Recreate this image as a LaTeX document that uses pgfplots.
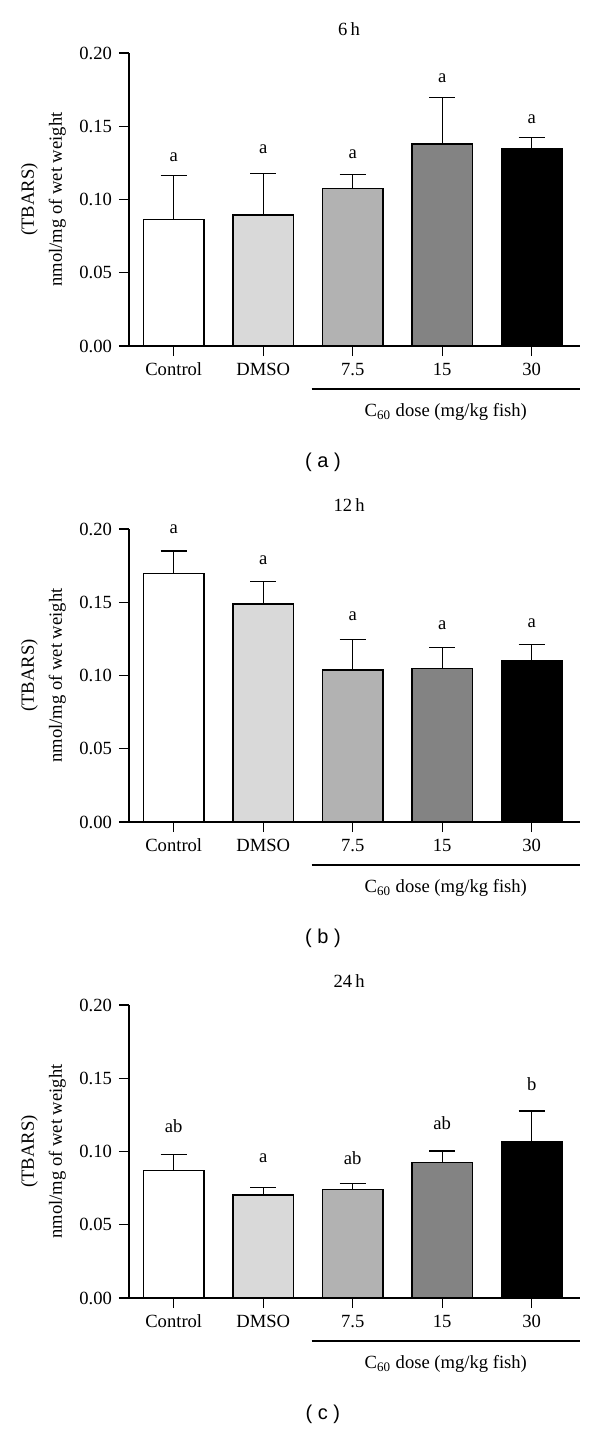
\documentclass[border=0pt]{standalone}
\usepackage{pgfplots}
\pgfplotsset{compat=1.18}
\usepackage{fontspec}
\setmainfont{Liberation Serif}
\newfontfamily\capfont{Liberation Sans}
\newcommand{\lbl}{\fontsize{9.3}{14}\selectfont}
\definecolor{g1}{HTML}{D9D9D9}
\definecolor{g2}{HTML}{B2B2B2}
\definecolor{g3}{HTML}{838383}
\pgfplotsset{
 panel/.style={
  scale only axis, width=225.5pt, height=146.5pt, anchor=south west,
  xmin=-0.5, xmax=4.54, ymin=0, ymax=0.2,
  axis x line=bottom, axis y line=left, axis line style={-, line width=0.6pt},
  xtick={0,1,2,3,4}, xticklabels={Control,DMSO,7.5,15,30},
  ytick={0,0.05,0.1,0.15,0.2},
  yticklabel style={/pgf/number format/.cd, fixed, fixed zerofill, precision=2, assume math mode=true},
  xticklabel style={/pgf/number format/assume math mode=true},
  tick align=outside, major tick length=5pt, tick style={line width=0.6pt, black},
  every tick label/.append style={font=\lbl},
  clip=false,
 },
 mybar/.style={ybar, bar width=0.68, bar shift=0pt, draw=black, line width=0.75pt, fill=#1,
   error bars/.cd, y dir=plus, y explicit,
   error bar style={line width=0.6pt, black},
   error mark options={line width=0.6pt, black, mark size=6.5pt, rotate=90}},
}
\newcommand{\decor}[2]{%
  \node[font=\lbl] at ([yshift=12pt]rel axis cs:0.488,1) {#1};
  \node[font=\lbl, rotate=90, align=center] at ([xshift=-42.75pt]rel axis cs:0,0.5) {(TBARS)\\nmol/mg of wet weight};
  \draw[line width=0.6pt] ([yshift=-21.5pt]axis cs:1.54,0) -- ([yshift=-21.5pt]axis cs:4.54,0);
  \node[font=\lbl] at ([yshift=-33pt]axis cs:3.04,0) {C\textsubscript{60} dose (mg/kg fish)};
  \node[font=\capfont\fontsize{10}{12}\selectfont] at ([yshift=-58pt]axis cs:1.667,0) {( #2 )};
}
\begin{document}
\begin{tikzpicture}
\path[use as bounding box] (0,0) rectangle (300pt,-715pt);
% (a) 6 h
\begin{axis}[panel, at={(64.5pt,-173pt)}]
\addplot[mybar=white] coordinates {(0,0.0865) +- (0,0.0297)};
\addplot[mybar=g1] coordinates {(1,0.0894) +- (0,0.0286)};
\addplot[mybar=g2] coordinates {(2,0.1076) +- (0,0.0095)};
\addplot[mybar=g3] coordinates {(3,0.1378) +- (0,0.0318)};
\addplot[mybar=black] coordinates {(4,0.1348) +- (0,0.0073)};
\node[font=\lbl] at (axis cs:0,0.129) {a};
\node[font=\lbl] at (axis cs:1,0.134) {a};
\node[font=\lbl] at (axis cs:2,0.131) {a};
\node[font=\lbl] at (axis cs:3,0.183) {a};
\node[font=\lbl] at (axis cs:4,0.155) {a};
\decor{6\,h}{a}
\end{axis}
% (b) 12 h
\begin{axis}[panel, at={(64.5pt,-411pt)}]
\addplot[mybar=white] coordinates {(0,0.1695) +- (0,0.0155)};
\addplot[mybar=g1] coordinates {(1,0.1487) +- (0,0.0152)};
\addplot[mybar=g2] coordinates {(2,0.1038) +- (0,0.0209)};
\addplot[mybar=g3] coordinates {(3,0.1047) +- (0,0.0143)};
\addplot[mybar=black] coordinates {(4,0.1099) +- (0,0.0114)};
\node[font=\lbl] at (axis cs:0,0.1996) {a};
\node[font=\lbl] at (axis cs:1,0.179) {a};
\node[font=\lbl] at (axis cs:2,0.1404) {a};
\node[font=\lbl] at (axis cs:3,0.1345) {a};
\node[font=\lbl] at (axis cs:4,0.136) {a};
\decor{12\,h}{b}
\end{axis}
% (c) 24 h
\begin{axis}[panel, at={(64.5pt,-649pt)}]
\addplot[mybar=white] coordinates {(0,0.0869) +- (0,0.0110)};
\addplot[mybar=g1] coordinates {(1,0.0702) +- (0,0.0051)};
\addplot[mybar=g2] coordinates {(2,0.0742) +- (0,0.0038)};
\addplot[mybar=g3] coordinates {(3,0.0925) +- (0,0.0078)};
\addplot[mybar=black] coordinates {(4,0.1070) +- (0,0.0206)};
\node[font=\lbl] at (axis cs:0,0.1175) {ab};
\node[font=\lbl] at (axis cs:1,0.0952) {a};
\node[font=\lbl] at (axis cs:2,0.0956) {ab};
\node[font=\lbl] at (axis cs:3,0.1193) {ab};
\node[font=\lbl] at (axis cs:4,0.1458) {b};
\decor{24\,h}{c}
\end{axis}
\end{tikzpicture}
\end{document}
